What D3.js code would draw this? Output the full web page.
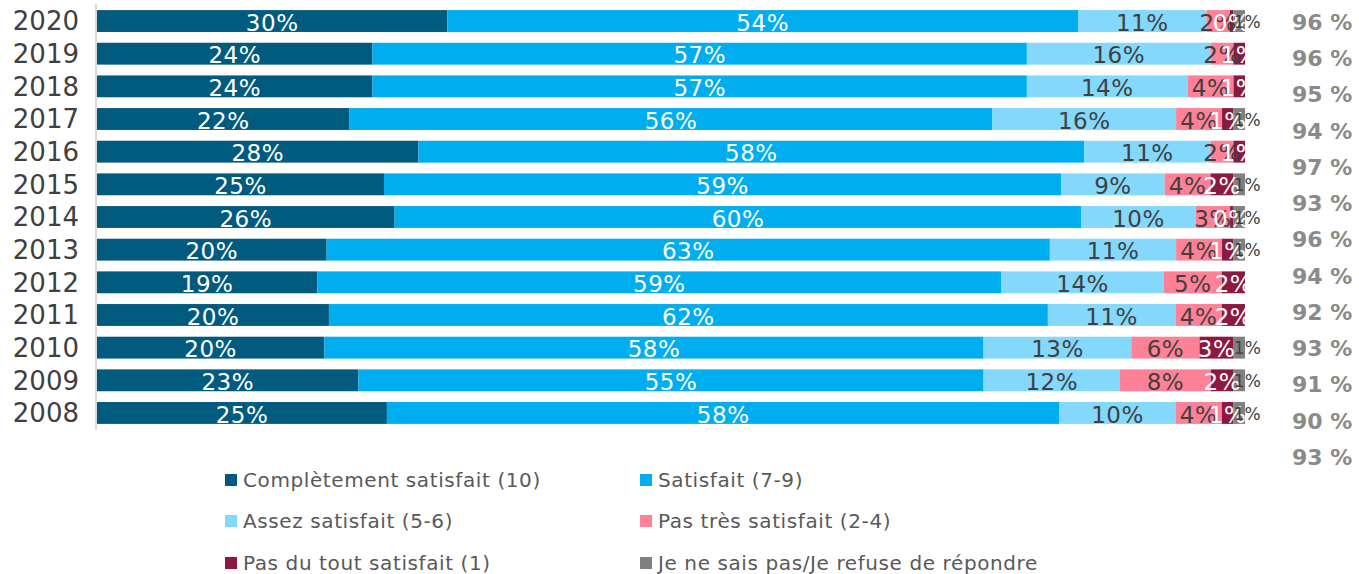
<!DOCTYPE html>
<html>
<head>
<meta charset="utf-8">
<script src="https://cdn.jsdelivr.net/npm/d3@7"></script>
<style>
  body { margin: 0; background: #fff; }
  text { font-family: "DejaVu Sans", Verdana, sans-serif; }
</style>
</head>
<body>
<div id="chart"></div>
<script>
// années (de haut en bas)
const years = ["2020","2019","2018","2017","2016","2015","2014","2013","2012","2011","2010","2009","2008"];

// séries (%), même ordre que years
const complet   = [30,24,24,22,28,25,26,20,19,20,20,23,25];
const satisfait = [54,57,57,56,58,59,60,63,59,62,58,55,58];
const assez     = [11,16,14,16,11, 9,10,11,14,11,13,12,10];
const pasTres   = [ 2, 2, 4, 4, 2, 4, 3, 4, 5, 4, 6, 8, 4];
const pasDuTout = [0.3,1, 1, 1, 1, 2,0.3,1, 2, 2, 3, 2, 1];
const nsp       = [ 1, 0, 0, 1, 0, 1, 1, 1, 0, 0, 1, 1, 1];

// colonne de droite
const totaux = [96,96,95,94,97,93,96,94,92,93,91,90,93];

const seriesNames = [
  "Complètement satisfait (10)", "Satisfait (7-9)",
  "Assez satisfait (5-6)", "Pas très satisfait (2-4)",
  "Pas du tout satisfait (1)", "Je ne sais pas/Je refuse de répondre"
];
const seriesVals = [complet, satisfait, assez, pasTres, pasDuTout, nsp];
const colors = ["#005B7F","#00AEEF","#83D8FC","#FF8197","#8C1A40","#808080"];
const labelColors = ["#fff","#fff","#404040","#404040","#fff","#404040"];

const W = 1359, H = 574;
const svg = d3.select("#chart").append("svg")
  .attr("width", W).attr("height", H);

// lignes empilées, normalisées à 100 %
const rows = years.map((yr, i) => {
  const vals = seriesVals.map(s => s[i]);
  const tot = d3.sum(vals);
  let acc = 0;
  const segs = vals.map((v, k) => {
    const s = {k: k, v: v, x0: acc / tot, x1: (acc + v) / tot};
    acc += v;
    return s;
  });
  return {year: yr, segs: segs};
});

const x = d3.scaleLinear().domain([0, 1]).range([97, 1245]);
const y = d3.scaleBand()
  .domain(years)
  .range([4.7, 429.3])
  .paddingInner(0.33)
  .paddingOuter(0.165);

// axe vertical
svg.append("line")
  .attr("x1", 96).attr("x2", 96)
  .attr("y1", 4).attr("y2", 430)
  .attr("stroke", "#D9D9D9").attr("stroke-width", 2);

// étiquettes des années
svg.append("g").selectAll("text")
  .data(years)
  .join("text")
    .attr("x", 79)
    .attr("y", d => y(d) + y.bandwidth() / 2)
    .attr("dy", "0.36em")
    .attr("text-anchor", "end")
    .style("font-size", "26px")
    .style("fill", "#404040")
    .text(d => d);

const rowG = svg.append("g").selectAll("g")
  .data(rows)
  .join("g")
    .attr("transform", d => `translate(0,${y(d.year)})`);

// barres
rowG.selectAll("rect")
  .data(d => d.segs.filter(s => s.v > 0))
  .join("rect")
    .attr("x", s => x(s.x0))
    .attr("width", s => x(s.x1) - x(s.x0))
    .attr("y", 0)
    .attr("height", y.bandwidth())
    .attr("fill", s => colors[s.k]);

// valeurs
rowG.selectAll("text")
  .data(d => d.segs.filter(s => s.v > 0))
  .join("text")
    .attr("x", s => (x(s.x0) + x(s.x1)) / 2 + (s.k === 5 ? 8 : 0))
    .attr("y", y.bandwidth() / 2)
    .attr("dy", s => s.k === 5 ? "0.4em" : "0.42em")
    .attr("text-anchor", "middle")
    .style("font-size", s => s.k === 5 ? "17px" : "23px")
    .style("letter-spacing", s => s.k === 5 ? "0px" : "0.5px")
    .style("fill", s => labelColors[s.k])
    .text(s => Math.round(s.v) + "%");

// colonne des totaux
const yTot = d3.scalePoint().domain(d3.range(totaux.length)).range([22, 457]);
svg.append("g").selectAll("text")
  .data(totaux)
  .join("text")
    .attr("x", 1292)
    .attr("y", (d, i) => yTot(i))
    .attr("dy", "0.36em")
    .style("font-size", "22px")
    .style("font-weight", "bold")
    .style("fill", "#8A8A8A")
    .text(d => d + " %");

// légende
const legX = [225, 640], legY = [480, 521, 563];
const leg = svg.append("g").selectAll("g")
  .data(seriesNames)
  .join("g")
    .attr("transform", (d, i) => `translate(${legX[i % 2]},${legY[Math.floor(i / 2)]})`);
leg.append("rect")
  .attr("x", 0).attr("y", -6)
  .attr("width", 12).attr("height", 12)
  .attr("fill", (d, i) => colors[i]);
leg.append("text")
  .attr("x", 18).attr("y", 0)
  .attr("dy", "0.36em")
  .style("font-size", "20px")
  .style("letter-spacing", "0.6px")
  .style("fill", "#595959")
  .text(d => d);
</script>
</body>
</html>
